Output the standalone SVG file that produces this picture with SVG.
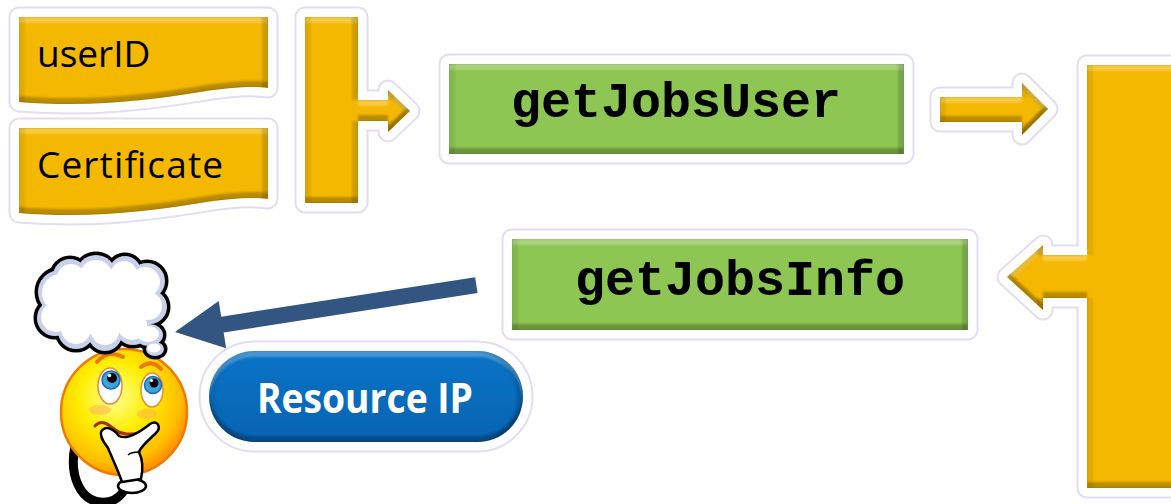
<svg xmlns="http://www.w3.org/2000/svg" width="1171" height="504" viewBox="0 0 1171 504">
  <defs>
    <style>
      .halo-o{fill:none;stroke:#E4DCF1;stroke-width:21;stroke-linejoin:round}
      .halo-w{fill:#fff;stroke:#fff;stroke-width:17;stroke-linejoin:round}
      .gold{fill:#F5B800;filter:url(#bevel)}
      .green{fill:#8DC653;filter:url(#bevel)}
      .pill{fill:url(#pillFill);filter:url(#bevel)}
      .label{font-family:"Open Sans","Liberation Sans",sans-serif;font-size:37px;fill:#000}
      .code{font-family:"Courier New","Liberation Mono",monospace;font-weight:bold;font-size:50px;fill:#000;text-anchor:middle}
      .pilltext{font-family:"Open Sans","Liberation Sans",sans-serif;font-weight:bold;font-size:42px;fill:#fff;text-anchor:middle}
      .ol{stroke:#000;stroke-width:7}
    </style>

    <!-- soft bevel: light top band, dark bottom/right bands -->
    <filter id="bevel" x="-3%" y="-3%" width="106%" height="106%" color-interpolation-filters="sRGB">
      <feGaussianBlur in="SourceAlpha" stdDeviation="1.2" result="ba"/>
      <feOffset in="ba" dy="6" result="d"/>
      <feComposite in="SourceAlpha" in2="d" operator="out" result="tb"/>
      <feOffset in="ba" dy="-6" result="u"/>
      <feComposite in="SourceAlpha" in2="u" operator="out" result="bb"/>
      <feOffset in="ba" dx="6" result="r"/>
      <feComposite in="SourceAlpha" in2="r" operator="out" result="lb"/>
      <feOffset in="ba" dx="-6" result="l"/>
      <feComposite in="SourceAlpha" in2="l" operator="out" result="rb"/>
      <feFlood flood-color="#fff" flood-opacity="0.25"/>
      <feComposite in2="tb" operator="in" result="tl"/>
      <feFlood flood-color="#000" flood-opacity="0.24"/>
      <feComposite in2="bb" operator="in" result="bd"/>
      <feFlood flood-color="#000" flood-opacity="0.07"/>
      <feComposite in2="lb" operator="in" result="ld"/>
      <feFlood flood-color="#000" flood-opacity="0.15"/>
      <feComposite in2="rb" operator="in" result="rd"/>
      <feMerge>
        <feMergeNode in="SourceGraphic"/>
        <feMergeNode in="tl"/>
        <feMergeNode in="ld"/>
        <feMergeNode in="rd"/>
        <feMergeNode in="bd"/>
      </feMerge>
    </filter>

    <linearGradient id="pillFill" x1="0" y1="0" x2="0" y2="1">
      <stop offset="0" stop-color="#0A74C6"/>
      <stop offset="1" stop-color="#0863B2"/>
    </linearGradient>
    <radialGradient id="faceFill" cx="0.42" cy="0.38" r="0.62">
      <stop offset="0" stop-color="#FFFF9A"/>
      <stop offset="0.45" stop-color="#FFEE00"/>
      <stop offset="0.85" stop-color="#FFBE00"/>
      <stop offset="1" stop-color="#FF9200"/>
    </radialGradient>

    <!-- shared outlines -->
    <path id="doc" d="M19,17 H268 V88 C255,86 230,87 200,92 C150,100 90,108 19,102 Z"/>
    <path id="merge" d="M305,17 H358 V100 H388 V90 L410,111 L388,132 V121 H358 V203 H305 Z"/>
    <path id="service" d="M1087,65 H1190 V488 H1087 V298 H1043 V310 L1007,277 L1043,245 V255 H1087 Z"/>
    <rect id="boxUser" x="449" y="64" width="455" height="90"/>
    <rect id="boxInfo" x="512" y="239" width="456" height="91"/>
    <rect id="boxIP" x="209" y="351" width="314" height="91" rx="45.5"/>
    <path id="link" d="M940,97 H1022 V83 L1048,109 L1022,135 V122 H940 Z"/>

    <!-- thought cloud lobes -->
    <g id="lobes">
      <circle cx="60" cy="292" r="22"/>
      <circle cx="55" cy="318" r="18"/>
      <circle cx="76" cy="331" r="18"/>
      <circle cx="105" cy="334" r="17"/>
      <circle cx="133" cy="327" r="18"/>
      <circle cx="150" cy="307" r="17"/>
      <circle cx="147" cy="281" r="18"/>
      <circle cx="125" cy="272" r="16"/>
      <circle cx="96" cy="275" r="20"/>
      <circle cx="70" cy="276" r="17"/>
      <ellipse cx="149" cy="335" rx="14" ry="11"/>
      <ellipse cx="155" cy="349" rx="9" ry="7"/>
    </g>
  </defs>

  <rect width="1171" height="504" fill="#fff"/>

  <!-- inputs -->
  <g id="userID">
    <use href="#doc" class="halo-o"/>
    <use href="#doc" class="halo-w"/>
    <use href="#doc" class="gold"/>
    <text class="label" x="37" y="67">userID</text>
  </g>

  <g id="certificate">
    <g transform="translate(0,111)">
      <use href="#doc" class="halo-o"/>
      <use href="#doc" class="halo-w"/>
      <use href="#doc" class="gold"/>
    </g>
    <text class="label" x="37" y="178" textLength="186" lengthAdjust="spacing">Certificate</text>
  </g>

  <g id="merge-bracket">
    <use href="#merge" class="halo-o"/>
    <use href="#merge" class="halo-w"/>
    <use href="#merge" class="gold"/>
  </g>

  <g id="getJobsUser">
    <use href="#boxUser" class="halo-o"/>
    <use href="#boxUser" class="halo-w"/>
    <use href="#boxUser" class="green"/>
    <text class="code" x="676" y="117">getJobsUser</text>
  </g>

  <g id="service-bar">
    <use href="#service" class="halo-o"/>
    <use href="#service" class="halo-w"/>
    <use href="#service" class="gold"/>
  </g>

  <g id="getJobsInfo">
    <use href="#boxInfo" class="halo-o"/>
    <use href="#boxInfo" class="halo-w"/>
    <use href="#boxInfo" class="green"/>
    <text class="code" x="740" y="295">getJobsInfo</text>
  </g>

  <g id="resourceIP">
    <use href="#boxIP" class="halo-o"/>
    <use href="#boxIP" class="halo-w"/>
    <use href="#boxIP" class="pill"/>
    <text class="pilltext" x="365" y="413" textLength="216" lengthAdjust="spacingAndGlyphs">Resource IP</text>
  </g>

  <!-- thinking user -->
  <g id="user">
    <!-- arm -->
    <path d="M75,446 C69,475 80,500 100,502 C110,503 118,499 123,492" fill="none" stroke="#000" stroke-width="9" stroke-linecap="round"/>
    <!-- face -->
    <circle cx="124" cy="412" r="63" fill="url(#faceFill)" stroke="#F07A00" stroke-width="2.5"/>
    <ellipse cx="100" cy="410" rx="11" ry="5" fill="#FFB050" opacity="0.55"/>
    <ellipse cx="147" cy="414" rx="10" ry="5" fill="#FFB050" opacity="0.55"/>
    <!-- brows -->
    <path d="M97,362 Q108,349 123,357" fill="none" stroke="#F07800" stroke-width="4" stroke-linecap="round"/>
    <path d="M141,367 Q152,359 161,369" fill="none" stroke="#F07800" stroke-width="4" stroke-linecap="round"/>
    <!-- eyes -->
    <ellipse cx="110" cy="386" rx="12" ry="18" fill="#fff" stroke="#E98A3A" stroke-width="1.5"/>
    <ellipse cx="152" cy="390" rx="11" ry="17" fill="#fff" stroke="#E98A3A" stroke-width="1.5"/>
    <circle cx="111" cy="380" r="9" fill="#3DA3DD" stroke="#1C6EA8" stroke-width="1.5"/>
    <circle cx="153" cy="385" r="8.5" fill="#3DA3DD" stroke="#1C6EA8" stroke-width="1.5"/>
    <circle cx="112" cy="378" r="5" fill="#000"/>
    <circle cx="154" cy="383" r="4.5" fill="#000"/>
    <circle cx="109.5" cy="375.5" r="1.8" fill="#fff"/>
    <circle cx="151.5" cy="380.5" r="1.6" fill="#fff"/>
    <!-- mouth -->
    <path d="M95,426 C101,419 108,424 114,429 S131,437 146,430" fill="none" stroke="#A3300E" stroke-width="3" stroke-linecap="round"/>
    <!-- glove -->
    <ellipse cx="132" cy="486" rx="14" ry="7" fill="#fff" stroke="#000" stroke-width="2.5"/>
    <path d="M101,432 C105,425 113,428 119,436 C127,440 140,432 150,424 C157,419 162,427 156,433 C149,440 141,446 139,452 C143,460 143,470 141,479 L122,482 C118,470 112,458 108,448 C104,442 100,438 101,432 Z" fill="#fff" stroke="#000" stroke-width="2.5" stroke-linejoin="round"/>
    <path d="M128,455 C131,452 135,452 139,452" fill="none" stroke="#000" stroke-width="1.5"/>
    <!-- thought cloud: black rim, lavender inner rim, white body -->
    <use href="#lobes" class="ol" fill="none"/>
    <use href="#lobes" fill="#C8D0EA"/>
    <circle cx="102" cy="302" r="36" fill="#C8D0EA"/>
    <circle cx="124" cy="300" r="28" fill="#C8D0EA"/>
    <g fill="#fff">
      <circle cx="61" cy="293" r="19"/>
      <circle cx="56" cy="317" r="15"/>
      <circle cx="76" cy="329" r="15"/>
      <circle cx="105" cy="331" r="14"/>
      <circle cx="132" cy="325" r="15"/>
      <circle cx="148" cy="306" r="14"/>
      <circle cx="145" cy="282" r="15"/>
      <circle cx="124" cy="274" r="13"/>
      <circle cx="96" cy="277" r="17"/>
      <circle cx="71" cy="278" r="14"/>
      <circle cx="102" cy="302" r="34"/>
      <circle cx="124" cy="300" r="27"/>
      <ellipse cx="148" cy="334" rx="11" ry="8"/>
      <ellipse cx="154" cy="348" rx="6.5" ry="4.5"/>
    </g>
  </g>

  <!-- connectors -->
  <g id="connectors">
    <g id="user-to-service">
      <use href="#link" class="halo-o"/>
      <use href="#link" class="halo-w"/>
      <use href="#link" class="gold"/>
    </g>
    <polygon id="info-to-user" transform="translate(175,332) rotate(-8.85)" points="0,0 48,-24 48,-8 305,-8 305,8 48,8 48,24" fill="#325582"/>
  </g>
</svg>
